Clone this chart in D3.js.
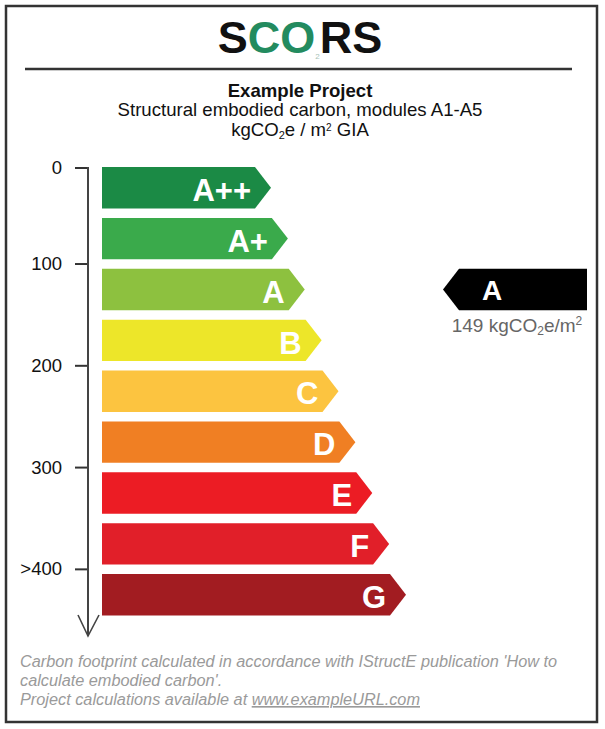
<!DOCTYPE html>
<html><head><meta charset="utf-8">
<script src="https://cdn.jsdelivr.net/npm/d3@7"></script>
<style>
body{margin:0;background:#fff}
svg{display:block}
text{font-family:"Liberation Sans",Arial,Helvetica,sans-serif}
</style>
</head><body>
<svg id="c" width="605" height="729"></svg>
<script>
// ---- data ----
const bands      = ["A++","A+","A","B","C","D","E","F","G"];
const bandLower  = [0, 50, 100, 150, 200, 250, 300, 350, 400];
const bandUpper  = [50, 100, 150, 200, 250, 300, 350, 400, 450];
const bandColors = ["#1b8a45","#3aaa4b","#8dc13f","#ede629","#fcc440","#f07f23","#ec1c24","#e11f29","#a21c21"];
const tickValues = [0, 100, 200, 300, 400];
const tickLabels = ["0","100","200","300",">400"];
const projectValue = 149;

// ---- layout ----
const svg = d3.select("#c");
const gap = 9.5;
const barX0 = 102, tipDepth = 16;
const axisX = 88;

const y = d3.scaleLinear().domain([0, 450]).range([167, 625]);
const tipX = d3.scaleLinear().domain([0, bands.length - 1]).range([271, 406]);

// outer frame
svg.append("rect").attr("x", 6).attr("y", 6).attr("width", 591).attr("height", 716)
  .attr("fill", "none").attr("stroke", "#333").attr("stroke-width", 2.5);

// logo
const logo = svg.append("text").attr("x", 300).attr("y", 53).attr("text-anchor", "middle")
  .attr("font-size", 45).attr("font-weight", "bold");
logo.append("tspan").attr("fill", "#111").text("S");
logo.append("tspan").attr("fill", "#238b5f").text("CO");
logo.append("tspan").attr("fill", "#a9c3b8").attr("font-size", 8).attr("font-weight", "normal")
  .attr("dy", 6).text("2");
logo.append("tspan").attr("fill", "#111").attr("dy", -6).text("RS");

svg.append("line").attr("x1", 25).attr("x2", 572).attr("y1", 69).attr("y2", 69)
  .attr("stroke", "#333").attr("stroke-width", 2.5);

// subtitle
const fs = 18.6;
svg.append("text").attr("x", 300).attr("y", 97).attr("text-anchor", "middle")
  .attr("font-size", fs).attr("font-weight", "bold").attr("fill", "#111").text("Example Project");
svg.append("text").attr("x", 300).attr("y", 116).attr("text-anchor", "middle")
  .attr("font-size", fs).attr("fill", "#111").text("Structural embodied carbon, modules A1-A5");
const u = svg.append("text").attr("x", 300).attr("y", 136).attr("text-anchor", "middle")
  .attr("font-size", fs).attr("fill", "#111");
u.append("tspan").text("kgCO");
u.append("tspan").attr("font-size", 11).attr("dy", 3).text("2");
u.append("tspan").attr("dy", -3).text("e / m");
u.append("tspan").attr("font-size", 10).attr("dy", -5).text("2");
u.append("tspan").attr("dy", 5).text(" GIA");

// axis
const axis = d3.axisLeft(y).tickValues(tickValues).tickSize(13).tickPadding(13)
  .tickFormat((d, i) => tickLabels[i]);
const ag = svg.append("g").attr("transform", `translate(${axisX},0)`).call(axis);
ag.select(".domain").remove();
ag.selectAll(".tick").attr("transform", d => `translate(0,${d === 0 ? y(d) + 1 : y(d) - gap / 2})`);
ag.selectAll(".tick line").attr("stroke", "#333").attr("stroke-width", 2);
ag.selectAll(".tick text").attr("font-size", 18.5).attr("fill", "#111")
  .attr("font-family", "'Liberation Sans',Arial,sans-serif");

svg.append("line").attr("x1", axisX).attr("x2", axisX).attr("y1", y(0)).attr("y2", 636)
  .attr("stroke", "#444").attr("stroke-width", 2);
svg.append("path").attr("d", `M${axisX - 10},615 L${axisX},636 L${axisX + 11},615`)
  .attr("fill", "none").attr("stroke", "#444").attr("stroke-width", 1.6);

// bars
const bg = svg.append("g");
bands.forEach((b, i) => {
  const t = y(bandLower[i]), bt = y(bandUpper[i]) - gap, m = (t + bt) / 2, tx = tipX(i);
  bg.append("path")
    .attr("d", `M${barX0},${t} L${tx - tipDepth},${t} L${tx},${m} L${tx - tipDepth},${bt} L${barX0},${bt} Z`)
    .attr("fill", bandColors[i]);
  bg.append("text").attr("x", tx - 20).attr("y", bt - 7.5).attr("text-anchor", "end")
    .attr("font-size", 31).attr("font-weight", "bold").attr("fill", "#fff").text(b);
});

// indicator
let ri = 0;
bandLower.forEach((lo, i) => { if (projectValue >= lo) ri = i; });
const it = y(bandLower[ri]), ib = y(bandUpper[ri]) - gap, im = (it + ib) / 2;
svg.append("path").attr("d", `M443,${im} L459,${it} L587,${it} L587,${ib} L459,${ib} Z`).attr("fill", "#000");
svg.append("text").attr("x", 492).attr("y", ib - 10).attr("text-anchor", "middle")
  .attr("font-size", 28).attr("font-weight", "bold").attr("fill", "#fff").text(bands[ri]);
const vt = svg.append("text").attr("x", 517).attr("y", ib + 22).attr("text-anchor", "middle")
  .attr("font-size", 19).attr("fill", "#666");
vt.append("tspan").text(`${projectValue} kgCO`);
vt.append("tspan").attr("font-size", 12).attr("dy", 3).text("2");
vt.append("tspan").attr("dy", -3).text("e/m");
vt.append("tspan").attr("font-size", 12).attr("dy", -7).text("2");

// footer
const foot = svg.append("g").attr("font-style", "italic").attr("fill", "#9a9a9a");
const ffs = 16.3;
foot.append("text").attr("x", 20).attr("y", 667).attr("font-size", ffs)
  .text("Carbon footprint calculated in accordance with IStructE publication 'How to");
foot.append("text").attr("x", 20).attr("y", 686).attr("font-size", ffs)
  .text("calculate embodied carbon'.");
const f3 = foot.append("text").attr("x", 20).attr("y", 705).attr("font-size", ffs);
f3.append("tspan").text("Project calculations available at ");
f3.append("tspan").attr("text-decoration", "underline").text("www.exampleURL.com");
</script>
</body></html>
